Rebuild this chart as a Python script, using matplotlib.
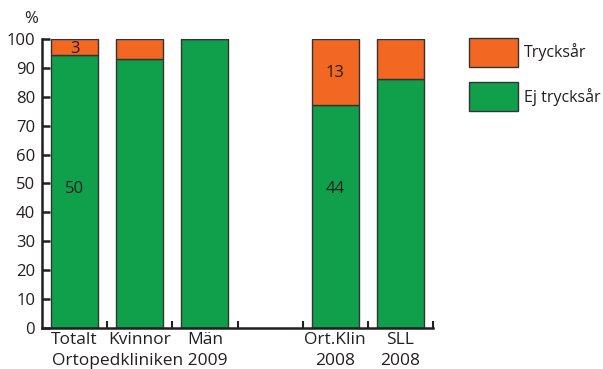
import matplotlib.pyplot as plt
import matplotlib.transforms as mtransforms
from matplotlib.patches import Patch
import numpy as np

plt.rcParams['font.family'] = ['Open Sans', 'DejaVu Sans']

# groups (empty slot keeps the gap between 2009 and 2008 data)
groups = ['Totalt', 'Kvinnor', 'Män', '', 'Ort.Klin', 'SLL']
sub_labels = ['', 'Ortopedkliniken 2009', '', '', '2008', '2008']

# share of patients without pressure ulcer, % (None = no bar)
ej_pct = [None, 93, 100, None, None, 86]

# counts shown inside bars (Totalt and Ort.Klin)
ej_counts = {'Totalt': 50, 'Ort.Klin': 44}
tr_counts = {'Totalt': 3, 'Ort.Klin': 13}

for g in ej_counts:
    i = groups.index(g)
    ej_pct[i] = 100 * ej_counts[g] / (ej_counts[g] + tr_counts[g])

orange = '#F26722'
green = '#10A04B'
dark = '#231F20'
fs = 12

fig = plt.figure(figsize=(6.03, 3.69), dpi=100)
ax = fig.add_axes([42/603, 1-328/369, (433-42)/603, (328-39)/369])

x = np.arange(len(groups))
for i, v in enumerate(ej_pct):
    if v is None:
        continue
    ax.bar(x[i], v, width=0.72, color=green, edgecolor='#333333', linewidth=1.0)
    ax.bar(x[i], 100 - v, bottom=v, width=0.72, color=orange, edgecolor='#333333', linewidth=1.0)

# count labels
for g in ej_counts:
    i = groups.index(g)
    v = ej_pct[i]
    ax.text(x[i], 48, str(ej_counts[g]), ha='center', va='center', fontsize=fs, color=dark)
    ax.text(x[i], (v + 100) / 2 - 0.5, str(tr_counts[g]), ha='center', va='center', fontsize=fs, color=dark)

ax.set_xlim(-0.5, len(groups) - 0.5)
ax.set_ylim(0, 100)
ax.set_yticks(np.arange(0, 101, 10))
ax.tick_params(axis='y', direction='in', length=6, width=1.8, color=dark,
               labelsize=fs, labelcolor=dark, pad=5)

# boundary ticks on x, labels at bar centres
ax.set_xticks(x + 0.5)
ax.set_xticklabels([])
ax.tick_params(axis='x', which='major', direction='in', length=5, width=1.5, color=dark)
ax.set_xticks(x, minor=True)
ax.set_xticklabels(groups, minor=True)
ax.tick_params(axis='x', which='minor', length=0, labelsize=12.5, labelcolor=dark, pad=3)

# second label line
trans = mtransforms.blended_transform_factory(ax.transData, fig.transFigure)
for i, s in enumerate(sub_labels):
    if s:
        ax.text(x[i], 1 - 361/369, s, transform=trans, ha='center', va='center',
                fontsize=12.5, color=dark)

for s in ['top', 'right']:
    ax.spines[s].set_visible(False)
for s in ['left', 'bottom']:
    ax.spines[s].set_linewidth(1.8)
    ax.spines[s].set_color(dark)

ax.text(-0.01, 1.068, '%', transform=ax.transAxes, ha='right', va='center',
        fontsize=fs, color=dark)

handles = [Patch(facecolor=orange, edgecolor='#333333', linewidth=1.0, label='Trycksår'),
           Patch(facecolor=green, edgecolor='#333333', linewidth=1.0, label='Ej trycksår')]
fig.legend(handles=handles, loc='upper left', bbox_to_anchor=(469/603, 1-38/369),
           frameon=False, fontsize=11.5, handlelength=3.07, handleheight=2.41,
           handletextpad=0.35, labelspacing=0.97, borderpad=0, borderaxespad=0,
           labelcolor=dark)

fig.savefig('out.png', dpi=100)
